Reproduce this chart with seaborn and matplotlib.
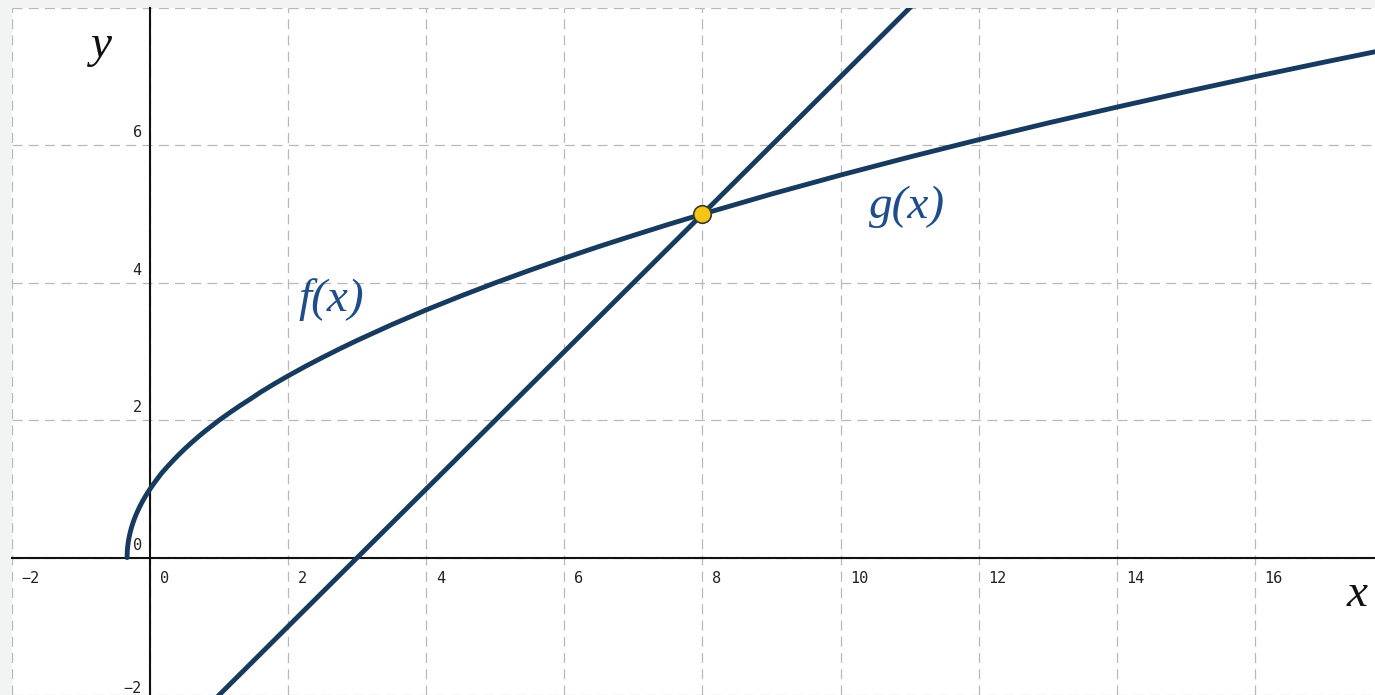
import numpy as np
import pandas as pd
import matplotlib
matplotlib.use("Agg")
import matplotlib.pyplot as plt
import seaborn as sns

# values
f_x = [-0.333, -0.332, -0.33, -0.325, -0.318, -0.31, -0.30, -0.285, -0.27, -0.25, -0.23,
       -0.205, -0.18, -0.15, -0.12, -0.085, -0.05, 0.0, 0.05, 0.1, 0.17, 0.25,
       0.33, 0.4, 0.5, 0.6, 0.7, 0.8, 1.0, 1.15, 1.3, 1.45, 1.6, 1.8, 2.0, 2.25, 2.5, 2.75,
       3.0, 3.5, 4.0, 4.5, 5.0, 5.5, 6.0, 6.5, 7.0, 7.5, 8.0,
       9.0, 10.0, 11.0, 12.0, 13.0, 14.0, 15.0, 16.0, 17.0, 18.0]
f_y = [0.0, 0.055, 0.1, 0.158, 0.212, 0.265, 0.316, 0.38, 0.436, 0.5, 0.557,
       0.62, 0.678, 0.742, 0.8, 0.863, 0.922, 1.0, 1.072, 1.14, 1.233, 1.323,
       1.41, 1.483, 1.581, 1.673, 1.761, 1.844, 2.0, 2.107, 2.21, 2.307, 2.408, 2.530, 2.646, 2.784, 2.915, 3.041,
       3.162, 3.391, 3.606, 3.808, 4.0, 4.183, 4.359, 4.528, 4.690, 4.848, 5.0,
       5.292, 5.568, 5.831, 6.083, 6.325, 6.557, 6.782, 7.0, 7.211, 7.416]
g_x = [0.0, 3.0, 8.0, 12.0]
g_y = [-3.0, 0.0, 5.0, 9.0]
cross_x = [8.0]
cross_y = [5.0]
x_ticks = [-2, 0, 2, 4, 6, 8, 10, 12, 14, 16]
y_ticks = [-2, 0, 2, 4, 6]

line_col = "#173b5e"
label_col = "#1f4c8a"

sns.set_style("white")
fig = plt.figure(figsize=(13.75, 6.95), dpi=100, facecolor="#f2f4f4")
ax = fig.add_axes([12 / 1375, 0, 1 - 12 / 1375, 1 - 8 / 695])
ax.set_facecolor("white")

ax.set_xlim(-2.0, 17.74)
ax.set_ylim(-1.97, 8.0)

# dashed grid
for v in range(-2, 18, 2):
    ax.axvline(v, color="#b8b8b8", lw=0.9, dashes=(8, 5), zorder=0)
for v in range(-2, 9, 2):
    ax.axhline(v, color="#b8b8b8", lw=0.9, dashes=(8, 5), zorder=0)

# axes through origin
for s in ["top", "right"]:
    ax.spines[s].set_visible(False)
ax.spines["left"].set_position(("data", 0))
ax.spines["bottom"].set_position(("data", 0))
ax.spines["left"].set_linewidth(1.5)
ax.spines["bottom"].set_linewidth(1.5)
ax.spines["left"].set_color("#111111")
ax.spines["bottom"].set_color("#111111")
ax.set_xticks(x_ticks)
ax.set_yticks(y_ticks + [8])
ax.set_xticklabels([])
ax.set_yticklabels([])
ax.tick_params(axis="both", direction="out", length=5, width=1.5, color="#111111")

# curves
df_f = pd.DataFrame({"x": f_x, "y": f_y})
df_g = pd.DataFrame({"x": g_x, "y": g_y})
sns.lineplot(data=df_f, x="x", y="y", ax=ax, color=line_col, lw=3.5, sort=False,
             estimator=None, zorder=3)
sns.lineplot(data=df_g, x="x", y="y", ax=ax, color=line_col, lw=3.5, sort=False,
             estimator=None, zorder=3)
sns.scatterplot(x=cross_x, y=cross_y, ax=ax, color="#f5c516", s=160,
                edgecolor="#3a3a2a", linewidth=1.2, zorder=5)
ax.set_xlabel("")
ax.set_ylabel("")

# tick labels
for v in x_ticks:
    ax.annotate(str(v).replace("-", "\u2212"), (v, 0), xytext=(7, -15), textcoords="offset points",
                ha="left", va="center", fontsize=11, family="DejaVu Sans Mono", color="#222222",
                annotation_clip=False)
for v in y_ticks:
    ax.annotate(str(v).replace("-", "\u2212"), (0, v), xytext=(-6, 5 if v == -2 else 9),
                textcoords="offset points", ha="right", va="center", fontsize=11,
                family="DejaVu Sans Mono", color="#222222", annotation_clip=False)

serif = dict(family="Liberation Serif", style="italic", fontsize=34)
ax.text(-0.70, 7.45, "y", ha="center", va="center", color="#111111", **serif)
ax.text(17.48, -0.54, "x", ha="center", va="center", color="#111111", **serif)
ax.text(2.62, 3.75, "f(x)", ha="center", va="center", color=label_col, **serif)
ax.text(10.96, 5.1, "g(x)", ha="center", va="center", color=label_col, **serif)

fig.savefig("out.png", dpi=100, facecolor=fig.get_facecolor())
